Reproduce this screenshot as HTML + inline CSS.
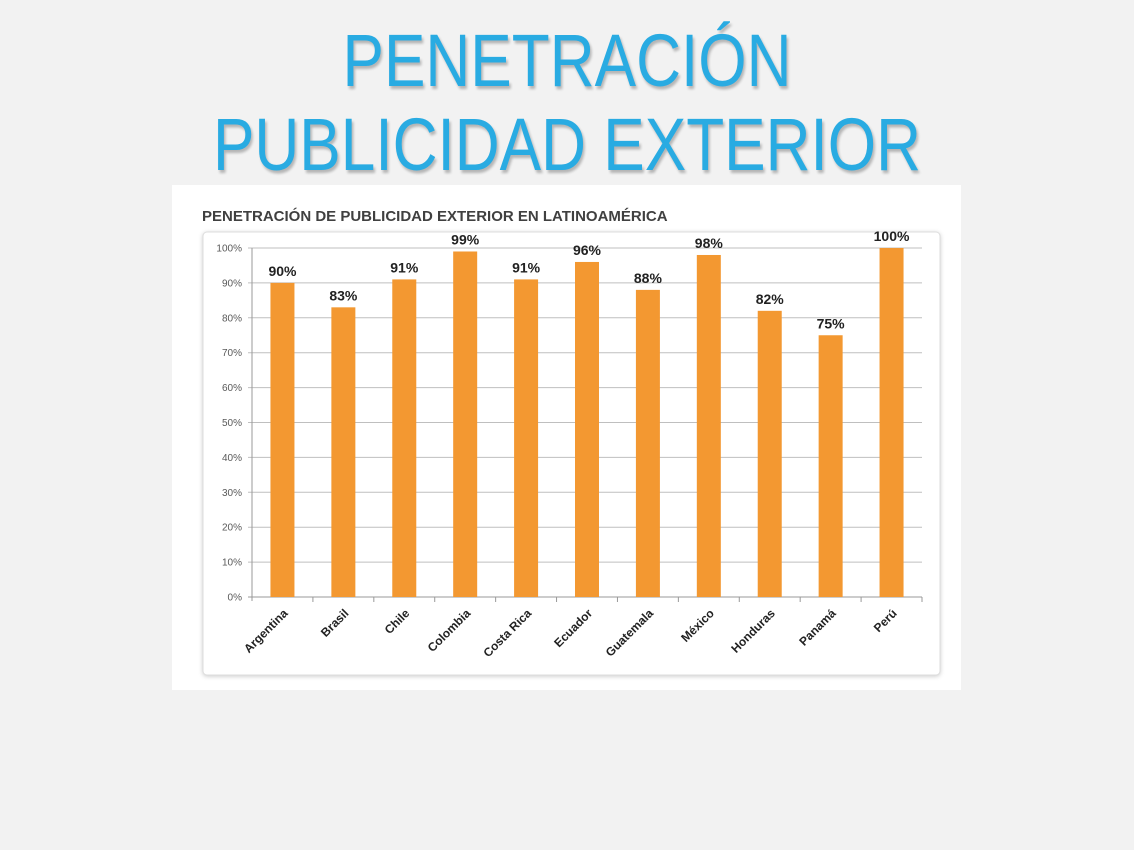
<!DOCTYPE html>
<html><head><meta charset="utf-8"><style>
body{margin:0;width:1134px;height:850px;background:#f2f2f2;overflow:hidden;font-family:"Liberation Sans",sans-serif}
.t{position:absolute;left:0;width:1134px;text-align:center;color:#29abe2;font-size:74px;letter-spacing:0px;text-shadow:2px 3px 3px rgba(0,0,0,.25);transform:scaleX(0.84);transform-origin:567px 0}
</style></head><body>
<div class="t" style="top:18px">PENETRACIÓN</div>
<div class="t" style="top:102px">PUBLICIDAD EXTERIOR</div>
<svg style="position:absolute;left:0;top:0" width="1134" height="850">
<rect x="172" y="185" width="789" height="505" fill="#fff"/>
<text x="202" y="221" font-size="15" font-weight="bold" fill="#404040" font-family="Liberation Sans">PENETRACIÓN DE PUBLICIDAD EXTERIOR EN LATINOAMÉRICA</text>
<rect x="203" y="232" width="737" height="443" rx="4" fill="#fff" stroke="#ddd" style="filter:drop-shadow(0 1px 2px rgba(0,0,0,.2))"/>
<g id="g"></g>
</svg>
<script>
const categories=["Argentina","Brasil","Chile","Colombia","Costa Rica","Ecuador","Guatemala","México","Honduras","Panamá","Perú"];
const values=[90,83,91,99,91,96,88,98,82,75,100];
const ticks=[0,10,20,30,40,50,60,70,80,90,100];
const NS="http://www.w3.org/2000/svg",g=document.getElementById('g');
const x0=252,x1=922,y0=597,y1=248,bw=(x1-x0)/categories.length;
const y=v=>y0-(v/100)*(y0-y1);
function el(t,a,txt){const e=document.createElementNS(NS,t);for(const k in a)e.setAttribute(k,a[k]);if(txt!=null)e.textContent=txt;g.appendChild(e);return e;}
ticks.forEach(t=>{
 const l=el('line',{x1:x0-4,x2:x1,y1:y(t),y2:y(t),stroke:t?'#bfbfbf':'#999','stroke-width':1});
 
 
 const s=el('text',{x:x0-10,y:y(t)+3.5,'text-anchor':'end','font-size':10,fill:'#595959','font-family':'Liberation Sans'},t+'%');
 
 
});
el('line',{x1:x0,x2:x0,y1:y1,y2:y0+4,stroke:'#999'});
categories.forEach((c,i)=>{
 const cx=x0+bw*(i+0.5);
 el('line',{x1:x0+bw*(i+1),x2:x0+bw*(i+1),y1:y0,y2:y0+5,stroke:'#999'});
 const r=el('rect',{x:cx-12,y:y(values[i]),width:24,height:y0-y(values[i]),fill:'#f39831'});
 
 
 const v=el('text',{x:cx,y:y(values[i])-7,'text-anchor':'middle','font-size':14,'font-weight':'bold',fill:'#222','font-family':'Liberation Sans'},values[i]+'%');
 
 
 const tl=el('text',{x:cx+6,y:y0+17,'text-anchor':'end','font-size':12,'font-weight':'bold',fill:'#222','font-family':'Liberation Sans',transform:`rotate(-45 ${cx+6} ${y0+17})`},c);
 
 
});
</script>
</body></html>
